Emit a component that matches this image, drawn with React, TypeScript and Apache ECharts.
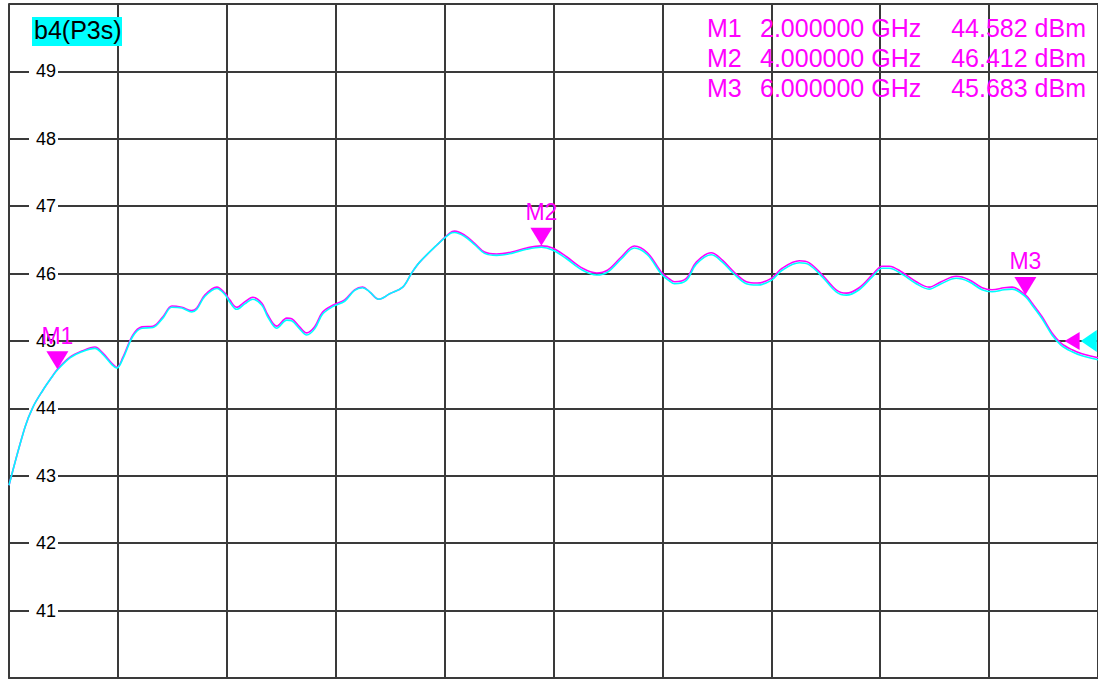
import React, { useEffect, useRef } from "react";
import * as echarts from "echarts";

const freqGHz = [
  1.8, 1.866, 1.899, 1.94, 1.978, 2.0, 2.052, 2.101, 2.155, 2.188, 2.225, 2.246, 2.271, 2.312, 2.349,
  2.395, 2.436, 2.473, 2.514, 2.555, 2.576, 2.609, 2.659, 2.692, 2.712, 2.741, 2.774, 2.807, 2.845,
  2.869, 2.906, 2.948, 2.968, 3.001, 3.03, 3.063, 3.096, 3.138, 3.187, 3.228, 3.261, 3.29, 3.328,
  3.373, 3.427, 3.464, 3.497, 3.567, 3.621, 3.641, 3.683, 3.724, 3.765, 3.815, 3.877, 3.939, 4.0,
  4.046, 4.104, 4.17, 4.228, 4.273, 4.331, 4.384, 4.438, 4.496, 4.529, 4.55, 4.599, 4.64, 4.702,
  4.748, 4.797, 4.847, 4.892, 4.95, 4.995, 5.066, 5.107, 5.161, 5.218, 5.26, 5.313, 5.367, 5.408,
  5.437, 5.491, 5.549, 5.602, 5.652, 5.714, 5.767, 5.821, 5.862, 5.912, 5.945, 6.0, 6.028, 6.069,
  6.11, 6.147, 6.193, 6.234, 6.292, 6.3,
];

const traceMagenta = [
  42.86, 43.72, 44.02, 44.27, 44.47, 44.582, 44.76, 44.85, 44.91, 44.82, 44.67, 44.61, 44.76, 45.09,
  45.21, 45.22, 45.36, 45.52, 45.5, 45.45, 45.49, 45.68, 45.8, 45.71, 45.61, 45.5, 45.58, 45.65, 45.56,
  45.39, 45.22, 45.34, 45.33, 45.21, 45.12, 45.21, 45.43, 45.53, 45.61, 45.76, 45.8, 45.73, 45.62,
  45.7, 45.8, 46.01, 46.17, 46.42, 46.6, 46.63, 46.57, 46.45, 46.32, 46.29, 46.32, 46.38, 46.412,
  46.38, 46.25, 46.08, 46.01, 46.05, 46.25, 46.41, 46.31, 46.02, 45.92, 45.88, 45.93, 46.17, 46.31,
  46.2, 46.02, 45.88, 45.86, 45.93, 46.08, 46.19, 46.16, 45.98, 45.76, 45.71, 45.79, 45.98, 46.11,
  46.11, 46.02, 45.88, 45.8, 45.88, 45.96, 45.91, 45.79, 45.76, 45.79, 45.8, 45.683, 45.56, 45.36,
  45.12, 44.97, 44.87, 44.81, 44.76, 44.75,
];

const traceCyan = [
  42.86, 43.72, 44.02, 44.27, 44.47, 44.57, 44.75, 44.84, 44.89, 44.8, 44.65, 44.6, 44.74, 45.07,
  45.19, 45.2, 45.34, 45.5, 45.49, 45.43, 45.47, 45.66, 45.78, 45.69, 45.58, 45.47, 45.55, 45.62, 45.53,
  45.36, 45.19, 45.31, 45.3, 45.18, 45.09, 45.18, 45.4, 45.51, 45.59, 45.75, 45.79, 45.73, 45.62,
  45.7, 45.8, 46.01, 46.17, 46.42, 46.59, 46.61, 46.55, 46.43, 46.3, 46.27, 46.3, 46.36, 46.39,
  46.35, 46.22, 46.05, 45.98, 46.02, 46.22, 46.38, 46.28, 45.99, 45.89, 45.85, 45.9, 46.14, 46.28,
  46.17, 45.99, 45.85, 45.83, 45.9, 46.05, 46.16, 46.13, 45.95, 45.73, 45.68, 45.76, 45.95, 46.08,
  46.08, 45.99, 45.85, 45.77, 45.85, 45.93, 45.88, 45.76, 45.73, 45.76, 45.77, 45.66, 45.53, 45.33,
  45.09, 44.94, 44.84, 44.78, 44.73, 44.72,
];

const markerNames = ["M1", "M2", "M3"];
const markerFreqs = [2.0, 4.0, 6.0];
const markerValues = [44.582, 46.412, 45.683];

const refLevel = 45;
const refMarkFreqMagenta = 6.193;
const refMarkFreqCyan = 6.262;

const freqStart = 1.8;
const freqStop = 6.3;
const freqStep = 0.45;
const yMin = 40;
const yMax = 50;
const yStep = 1;

const traceTitle = "b4(P3s)";

const MAGENTA = "#ff00ff";
const CYAN = "#00ffff";
const GRIDC = "#3a3a3a";
const FONT = "'Liberation Sans', Arial, sans-serif";

export default function App() {
  const ref = useRef<HTMLDivElement>(null);

  useEffect(() => {
    document.body.style.margin = "0";
    const chart = echarts.init(ref.current!, undefined, { renderer: "svg" });

    const magentaData = freqGHz.map((f, i) => [f, traceMagenta[i]]);
    const cyanData = freqGHz.map((f, i) => [f, traceCyan[i]]);

    const markerTexts: any[] = [];
    markerNames.forEach((n, i) => {
      const y = 28 + i * 30;
      markerTexts.push(
        { type: "text", left: 707, top: y - 13, style: { text: n, fill: MAGENTA, font: `25px ${FONT}` }, z: 10 },
        {
          type: "text",
          left: 760,
          top: y - 13,
          style: { text: `${markerFreqs[i].toFixed(6)} GHz`, fill: MAGENTA, font: `25px ${FONT}` },
          z: 10,
        },
        {
          type: "text",
          right: 12,
          top: y - 13,
          style: { text: `${markerValues[i].toFixed(3)} dBm`, fill: MAGENTA, font: `25px ${FONT}` },
          z: 10,
        }
      );
    });

    const option: any = {
      animation: false,
      backgroundColor: "#ffffff",
      grid: { left: 9, top: 4, width: 1090, height: 674, containLabel: false },
      xAxis: {
        type: "value",
        min: freqStart,
        max: freqStop,
        interval: freqStep,
        axisLabel: { show: false },
        axisTick: { show: false },
        axisLine: { show: true, lineStyle: { color: GRIDC, width: 2 } },
        splitLine: { show: true, lineStyle: { color: GRIDC, width: 2 } },
      },
      yAxis: {
        type: "value",
        min: yMin,
        max: yMax,
        interval: yStep,
        axisTick: { show: false },
        axisLine: { show: true, lineStyle: { color: GRIDC, width: 2 } },
        splitLine: { show: true, lineStyle: { color: GRIDC, width: 2 } },
        axisLabel: {
          inside: true,
          margin: 20,
          showMinLabel: false,
          showMaxLabel: false,
          color: "#000",
          fontSize: 18,
          fontFamily: FONT,
          backgroundColor: "#ffffff",
          padding: [0, 2, 0, 7],
          lineHeight: 18,
        },
        z: 3,
      },
      graphic: [
        { type: "rect", left: 32, top: 17, shape: { width: 90, height: 29 }, style: { fill: CYAN }, z: 10 },
        { type: "text", left: 34, top: 17, style: { text: traceTitle, fill: "#000", font: `25px ${FONT}` }, z: 11 },
        ...markerTexts,
      ],
      series: [
        {
          type: "line",
          data: magentaData,
          showSymbol: false,
          smooth: 0.35,
          lineStyle: { color: MAGENTA, width: 1.6 },
          itemStyle: { color: MAGENTA },
          z: 4,
          markPoint: {
            z: 20,
            data: [
              ...markerNames.map((n, i) => ({
                name: n,
                coord: [markerFreqs[i], markerValues[i]],
                symbol: "triangle",
                symbolRotate: 180,
                symbolSize: [22, 18],
                symbolOffset: [0, -9],
                itemStyle: { color: MAGENTA },
                label: {
                  show: true,
                  position: "top",
                  distance: 4,
                  color: MAGENTA,
                  fontSize: 23,
                  fontFamily: FONT,
                  formatter: n,
                },
              })),
              {
                name: "refM",
                coord: [refMarkFreqMagenta, refLevel],
                symbol: "triangle",
                symbolRotate: 90,
                symbolSize: [18, 15],
                itemStyle: { color: MAGENTA },
                label: { show: false },
              },
            ],
          },
        },
        {
          type: "line",
          data: cyanData,
          showSymbol: false,
          smooth: 0.35,
          lineStyle: { color: CYAN, width: 1.6 },
          itemStyle: { color: CYAN },
          z: 5,
          markPoint: {
            z: 21,
            data: [
              {
                name: "refC",
                coord: [refMarkFreqCyan, refLevel],
                symbol: "triangle",
                symbolRotate: 90,
                symbolSize: [22, 16],
                itemStyle: { color: CYAN },
                label: { show: false },
              },
            ],
          },
        },
      ],
    };

    chart.setOption(option);
    return () => chart.dispose();
  }, []);

  return <div ref={ref} style={{ width: 1098, height: 680 }} />;
}
